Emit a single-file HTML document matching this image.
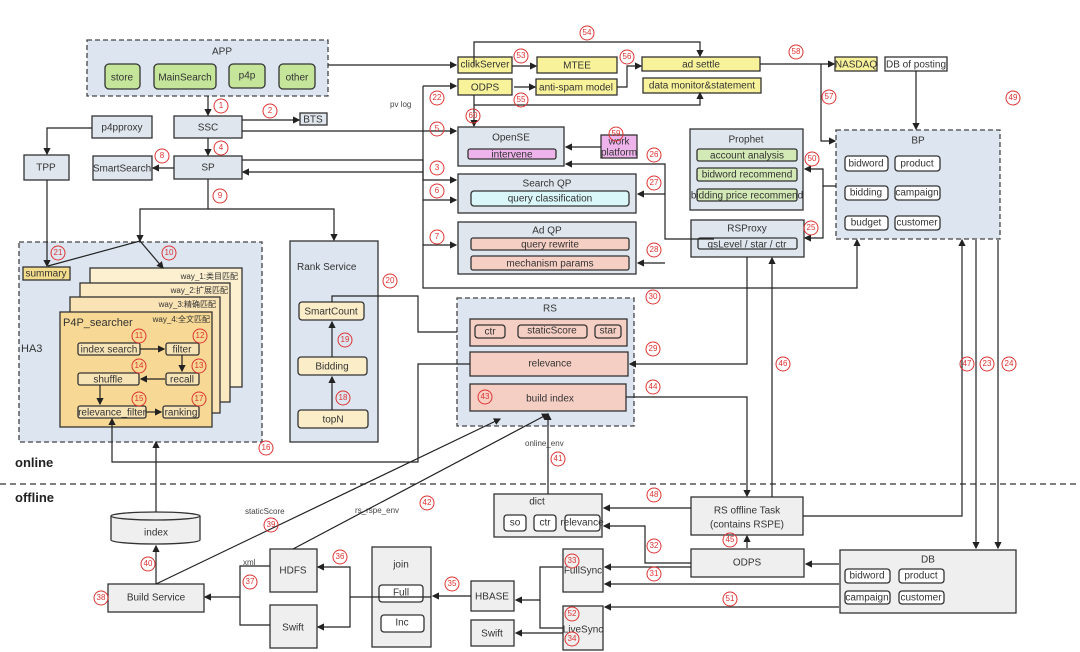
<!DOCTYPE html>
<html><head><meta charset="utf-8"><style>
body{margin:0;background:#fff}
svg{display:block;font-family:"Liberation Sans","Noto Sans CJK SC",sans-serif}
.b{stroke:#333;stroke-width:1.3}
.l{stroke:#222;stroke-width:1.2;fill:none}
.t{font-size:10px;fill:#333;text-anchor:middle;dominant-baseline:middle}
.n circle{fill:none;stroke:#d33;stroke-width:1}
.n text{font-size:8px;fill:#d33;text-anchor:middle;dominant-baseline:middle}
</style></head><body>
<svg width="1080" height="652" viewBox="0 0 1080 652">
<defs><marker id="a" markerWidth="6" markerHeight="6" refX="5" refY="3" orient="auto"><path d="M0,0L6,3L0,6z" fill="#222"/></marker></defs>
<rect x="87" y="40" width="241" height="56" fill="#dde6f0" stroke="#444" stroke-dasharray="5,3" stroke-width="1.3"/>
<text x="222" y="52" class="t" font-size="11">APP</text>
<g fill="#c5e59a" class="b">
<rect x="105" y="64" width="35" height="25" rx="4"/><rect x="154" y="64" width="62" height="25" rx="4"/><rect x="229" y="64" width="36" height="24" rx="4"/><rect x="279" y="64" width="36" height="25" rx="4"/></g>
<text x="122" y="78" class="t" font-size="9">store</text><text x="185" y="78" class="t" font-size="9">MainSearch</text><text x="247" y="76" class="t" font-size="9">p4p</text><text x="297" y="78" class="t" font-size="9">other</text>
<g fill="#dfe6ee" class="b">
<rect x="174" y="116" width="68" height="22"/><rect x="92" y="116" width="60" height="22"/><rect x="24" y="155" width="45" height="25"/><rect x="93" y="156" width="59" height="24"/><rect x="174" y="156" width="68" height="23"/><rect x="300" y="113" width="27" height="12"/></g>
<text x="208" y="128" class="t" font-size="12">SSC</text><text x="122" y="128" class="t" font-size="9">p4pproxy</text><text x="46" y="168" class="t" font-size="9">TPP</text><text x="122" y="169" class="t" font-size="9">SmartSearch</text><text x="208" y="168" class="t" font-size="12">SP</text><text x="313" y="120" class="t" font-size="8">BTS</text>
<rect x="19" y="242" width="243" height="200" fill="#dde6f0" stroke="#444" stroke-dasharray="5,3" stroke-width="1.3"/>
<text x="21" y="352" font-size="11" fill="#333">HA3</text>
<rect x="23" y="267" width="47" height="13" fill="#f3dc8c" class="b"/><text x="46" y="274" class="t" font-size="8">summary</text>
<g class="b"><rect x="90" y="268" width="152" height="119" fill="#fdf0d0"/><rect x="80" y="283" width="150" height="119" fill="#fbe9c2"/><rect x="70" y="297" width="150" height="116" fill="#fae3b4"/><rect x="60" y="312" width="152" height="115" fill="#f7d995"/></g>
<g font-size="8" fill="#333" text-anchor="end"><text x="238" y="279">way_1:类目匹配</text><text x="228" y="293">way_2:扩展匹配</text><text x="216" y="307">way_3:精确匹配</text><text x="210" y="322">way_4:全文匹配</text></g>
<text x="63" y="326" font-size="11" fill="#333">P4P_searcher</text>
<g fill="#f7e4b6" class="b" stroke-width="1"><rect x="78" y="343" width="62" height="12" rx="2"/><rect x="166" y="343" width="33" height="12" rx="2"/><rect x="166" y="373" width="33" height="12" rx="2"/><rect x="78" y="373" width="61" height="12" rx="2"/><rect x="78" y="406" width="68" height="12" rx="2"/><rect x="163" y="406" width="36" height="12" rx="2"/></g>
<text x="109" y="350" class="t" font-size="7.5">index search</text><text x="182" y="350" class="t" font-size="7.5">filter</text><text x="182" y="380" class="t" font-size="7.5">recall</text><text x="108" y="380" class="t" font-size="7.5">shuffle</text><text x="112" y="413" class="t" font-size="7.5">relevance_filter</text><text x="181" y="413" class="t" font-size="7.5">ranking</text>
<rect x="290" y="241" width="88" height="201" fill="#dde6f0" class="b"/>
<text x="297" y="270" font-size="10" fill="#333">Rank Service</text>
<g fill="#fbedc8" class="b" stroke-width="1"><rect x="299" y="302" width="65" height="18" rx="3"/><rect x="298" y="357" width="69" height="18" rx="3"/><rect x="298" y="410" width="70" height="18" rx="3"/></g>
<text x="331" y="312" class="t" font-size="8">SmartCount</text><text x="332" y="367" class="t" font-size="8">Bidding</text><text x="333" y="420" class="t" font-size="8">topN</text>
<text x="15" y="467" font-size="13" font-weight="bold" fill="#222">online</text>
<text x="15" y="502" font-size="13" font-weight="bold" fill="#222">offline</text>
<line x1="0" y1="484" x2="1080" y2="484" stroke="#333" stroke-dasharray="6,4" stroke-width="1.3"/>
<g fill="#f8f39a" class="b"><rect x="458" y="57" width="54" height="16"/><rect x="458" y="79" width="54" height="16"/><rect x="537" y="57" width="80" height="16"/><rect x="536" y="79" width="81" height="16"/><rect x="642" y="57" width="118" height="14"/><rect x="643" y="78" width="118" height="15"/><rect x="835" y="57" width="42" height="14"/></g>
<rect x="885" y="57" width="62" height="14" fill="#fff" class="b"/>
<text x="485" y="65" class="t">clickServer</text><text x="485" y="88" class="t">ODPS</text><text x="577" y="66" class="t">MTEE</text><text x="576" y="88" class="t">anti-spam model</text><text x="701" y="65" class="t">ad settle</text><text x="702" y="86" class="t">data monitor&amp;statement</text><text x="856" y="65" class="t">NASDAQ</text><text x="916" y="65" class="t">DB of posting</text>
<g fill="#dfe6ee" class="b"><rect x="458" y="127" width="106" height="39"/><rect x="458" y="174" width="178" height="39"/><rect x="458" y="222" width="178" height="52"/><rect x="690" y="129" width="113" height="81"/><rect x="691" y="220" width="113" height="37"/></g>
<text x="511" y="138" class="t" font-size="11">OpenSE</text><text x="547" y="184" class="t" font-size="11">Search QP</text><text x="547" y="231" class="t" font-size="11">Ad QP</text><text x="746" y="140" class="t" font-size="11">Prophet</text><text x="747" y="229" class="t" font-size="11">RSProxy</text>
<rect x="468" y="149" width="88" height="10" rx="2" fill="#efb3ec" class="b" stroke-width="1"/><text x="512" y="155" class="t" font-size="8">intervene</text>
<rect x="601" y="135" width="36" height="23" fill="#efb3ec" class="b" stroke-width="1"/><text x="619" y="142" class="t" font-size="8">work</text><text x="619" y="153" class="t" font-size="8">platform</text>
<rect x="471" y="191" width="158" height="15" rx="3" fill="#d9f6f8" class="b" stroke-width="1"/><text x="550" y="199" class="t" font-size="8">query classification</text>
<g fill="#f6cfc4" class="b" stroke-width="1"><rect x="471" y="238" width="158" height="12" rx="2"/><rect x="471" y="256" width="158" height="14" rx="2"/></g>
<text x="550" y="245" class="t" font-size="8">query rewrite</text><text x="550" y="264" class="t" font-size="8">mechanism params</text>
<g fill="#d3e9b6" class="b" stroke-width="1"><rect x="697" y="149" width="100" height="12" rx="2"/><rect x="697" y="168" width="100" height="13" rx="2"/><rect x="697" y="189" width="100" height="12" rx="2"/></g>
<text x="747" y="156" class="t" font-size="8">account analysis</text><text x="747" y="175" class="t" font-size="8">bidword recommend</text><text x="747" y="196" class="t" font-size="8">bidding price recommend</text>
<rect x="698" y="238" width="99" height="11" rx="2" fill="#dfe6ee" class="b" stroke-width="1"/><text x="747" y="245" class="t" font-size="8">qsLevel   /   star   /   ctr</text>
<rect x="836" y="130" width="164" height="109" fill="#dde6f0" stroke="#444" stroke-dasharray="5,3" stroke-width="1.3"/>
<text x="918" y="141" class="t" font-size="11">BP</text>
<g fill="#fff" class="b" stroke-width="1"><rect x="845" y="156" width="43" height="15" rx="3"/><rect x="895" y="156" width="45" height="15" rx="3"/><rect x="845" y="186" width="43" height="14" rx="3"/><rect x="895" y="186" width="45" height="14" rx="3"/><rect x="845" y="216" width="43" height="14" rx="3"/><rect x="895" y="216" width="45" height="14" rx="3"/></g>
<text x="866" y="164" class="t" font-size="8">bidword</text><text x="917" y="164" class="t" font-size="8">product</text><text x="866" y="193" class="t" font-size="8">bidding</text><text x="917" y="193" class="t" font-size="8">campaign</text><text x="866" y="223" class="t" font-size="8">budget</text><text x="917" y="223" class="t" font-size="8">customer</text>
<rect x="457" y="298" width="177" height="128" fill="#dde6f0" stroke="#444" stroke-dasharray="5,3" stroke-width="1.3"/>
<text x="550" y="309" class="t" font-size="10">RS</text>
<g fill="#f6cfc4" class="b"><rect x="470" y="319" width="157" height="27"/><rect x="470" y="352" width="158" height="24"/><rect x="470" y="384" width="156" height="27"/></g>
<g fill="#f6cfc4" class="b" stroke-width="1"><rect x="475" y="325" width="30" height="13" rx="3"/><rect x="518" y="325" width="69" height="13" rx="3"/><rect x="595" y="325" width="26" height="13" rx="3"/></g>
<text x="490" y="332" class="t" font-size="8">ctr</text><text x="552" y="331" class="t" font-size="8">staticScore</text><text x="608" y="331" class="t" font-size="8">star</text><text x="550" y="364" class="t" font-size="8">relevance</text><text x="550" y="399" class="t" font-size="8">build index</text>
<g fill="#efefef" class="b"><rect x="494" y="494" width="108" height="43"/><rect x="691" y="497" width="112" height="38"/><rect x="691" y="549" width="113" height="28"/><rect x="840" y="550" width="176" height="63"/><rect x="563" y="549" width="40" height="43"/><rect x="563" y="606" width="40" height="44"/><rect x="471" y="581" width="43" height="30"/><rect x="471" y="620" width="43" height="26"/><rect x="372" y="547" width="59" height="100"/><rect x="270" y="549" width="47" height="43"/><rect x="270" y="605" width="47" height="43"/><rect x="108" y="584" width="96" height="28"/></g>
<text x="537" y="502" class="t" font-size="11">dict</text>
<g fill="#fff" class="b" stroke-width="1"><rect x="504" y="515" width="22" height="16" rx="3"/><rect x="534" y="515" width="22" height="16" rx="3"/><rect x="565" y="515" width="35" height="16" rx="3"/><rect x="845" y="569" width="45" height="14" rx="3"/><rect x="899" y="569" width="45" height="14" rx="3"/><rect x="845" y="591" width="45" height="13" rx="3"/><rect x="899" y="591" width="45" height="13" rx="3"/><rect x="379" y="585" width="44" height="17" rx="3"/><rect x="381" y="615" width="43" height="17" rx="3"/></g>
<text x="515" y="523" class="t" font-size="8">so</text><text x="545" y="523" class="t" font-size="8">ctr</text><text x="582" y="523" class="t" font-size="8">relevance</text><text x="867" y="576" class="t" font-size="8">bidword</text><text x="921" y="576" class="t" font-size="8">product</text><text x="867" y="598" class="t" font-size="8">campaign</text><text x="921" y="598" class="t" font-size="8">customer</text><text x="401" y="593" class="t" font-size="8">Full</text><text x="402" y="623" class="t" font-size="8">Inc</text>
<text x="747" y="511" class="t" font-size="11">RS offline Task</text><text x="747" y="525" class="t" font-size="11">(contains RSPE)</text>
<text x="747" y="563" class="t" font-size="11">ODPS</text><text x="928" y="560" class="t" font-size="10">DB</text>
<text x="583" y="571" class="t" font-size="10">FullSync</text><text x="583" y="630" class="t" font-size="10">LiveSync</text>
<text x="492" y="597" class="t" font-size="10">HBASE</text><text x="492" y="634" class="t" font-size="10">Swift</text>
<text x="401" y="565" class="t" font-size="10">join</text><text x="293" y="571" class="t" font-size="10">HDFS</text><text x="293" y="628" class="t" font-size="10">Swift</text><text x="156" y="598" class="t" font-size="10">Build Service</text>
<path d="M111,516 L111,540 A44.5,4 0 0 0 200,540 L200,516" fill="#efefef" class="b"/>
<ellipse cx="155.5" cy="516" rx="44.5" ry="4" fill="#efefef" class="b"/>
<text x="156" y="533" class="t" font-size="10">index</text>
<g font-size="8" fill="#444"><text x="390" y="107">pv log</text><text x="245" y="514">staticScore</text><text x="355" y="513">rs_rspe_env</text><text x="243" y="565">xml</text><text x="525" y="446">online_env</text></g>
<g class="l" marker-end="url(#a)">
<path d="M328,65H456"/><path d="M208,96V115"/><path d="M242,120H299"/><path d="M208,138V155"/><path d="M174,168H153"/>
<path d="M92,128H47V154"/><path d="M47,180V266"/>
<path d="M208,179V209H140V241"/><path d="M208,209H334V240"/>
<path d="M140,241L48,266" marker-end="none"/><path d="M140,241L163,268"/>
<path d="M423,86H456"/><path d="M242,131H456"/><path d="M242,160H423V180H456"/><path d="M423,200H456"/><path d="M423,245H456"/>
<path d="M423,172H243"/>
<path d="M423,86V288H857V240"/>
<path d="M512,66H536"/><path d="M617,87H627V66H641"/><path d="M514,87H535"/><path d="M474,66V42H700V56"/><path d="M474,95V105H700V93"/><path d="M474,105V126"/>
<path d="M760,64H834"/><path d="M821,64V141H835"/><path d="M916,71V129"/>
<path d="M601,147H566"/><path d="M714,239H665V164H566"/><path d="M665,194H638"/><path d="M665,263H638"/>
<path d="M836,186H823V169H805"/><path d="M823,186V238H805"/>
<path d="M140,349H164"/><path d="M182,355V371"/><path d="M165,379H141"/><path d="M100,385V404"/><path d="M146,412H161"/>
<path d="M332,410V377"/><path d="M332,357V322"/>
<path d="M332,302V296H418V332H457" marker-end="none"/>
<path d="M470,364H418V462H112V420" marker-end="none"/><path d="M112,420V419"/>
<path d="M747,257V364H630"/><path d="M626,397H747V496"/><path d="M772,497V258"/>
<path d="M803,516H962V240"/><path d="M976,240V548"/><path d="M998,240V548"/>
<path d="M839,564H806"/><path d="M839,584H605"/><path d="M839,607H605"/>
<path d="M747,548V536"/><path d="M691,563H645V526H604"/><path d="M691,567H605"/><path d="M691,508H604"/>
<path d="M548,494V414"/>
<path d="M563,567H540V600H516"/><path d="M540,600V628H563" marker-end="none"/><path d="M563,633H516"/>
<path d="M471,596H433"/><path d="M431,597H350V567H318"/><path d="M350,597V627H318"/>
<path d="M270,566H240V625H270" marker-end="none"/><path d="M240,597H205"/>
<path d="M156,584V546"/><path d="M156,512V442"/>
<path d="M156,584L500,419"/><path d="M293,549L548,414"/>
</g>
<g class="n">
<g><circle cx="221" cy="106" r="7"/><text x="221" y="106">1</text></g>
<g><circle cx="270" cy="111" r="7"/><text x="270" y="111">2</text></g>
<g><circle cx="221" cy="148" r="7"/><text x="221" y="148">4</text></g>
<g><circle cx="162" cy="156" r="7"/><text x="162" y="156">8</text></g>
<g><circle cx="220" cy="196" r="7"/><text x="220" y="196">9</text></g>
<g><circle cx="437" cy="98" r="7"/><text x="437" y="98">22</text></g>
<g><circle cx="437" cy="129" r="7"/><text x="437" y="129">5</text></g>
<g><circle cx="437" cy="168" r="7"/><text x="437" y="168">3</text></g>
<g><circle cx="437" cy="191" r="7"/><text x="437" y="191">6</text></g>
<g><circle cx="437" cy="237" r="7"/><text x="437" y="237">7</text></g>
<g><circle cx="521" cy="56" r="7"/><text x="521" y="56">53</text></g>
<g><circle cx="587" cy="33" r="7"/><text x="587" y="33">54</text></g>
<g><circle cx="627" cy="57" r="7"/><text x="627" y="57">56</text></g>
<g><circle cx="796" cy="52" r="7"/><text x="796" y="52">58</text></g>
<g><circle cx="829" cy="97" r="7"/><text x="829" y="97">57</text></g>
<g><circle cx="1013" cy="98" r="7"/><text x="1013" y="98">49</text></g>
<g><circle cx="521" cy="100" r="7"/><text x="521" y="100">55</text></g>
<g><circle cx="473" cy="116" r="7"/><text x="473" y="116">60</text></g>
<g><circle cx="616" cy="134" r="7"/><text x="616" y="134">59</text></g>
<g><circle cx="654" cy="155" r="7"/><text x="654" y="155">26</text></g>
<g><circle cx="654" cy="183" r="7"/><text x="654" y="183">27</text></g>
<g><circle cx="654" cy="250" r="7"/><text x="654" y="250">28</text></g>
<g><circle cx="812" cy="159" r="7"/><text x="812" y="159">50</text></g>
<g><circle cx="811" cy="228" r="7"/><text x="811" y="228">25</text></g>
<g><circle cx="58" cy="253" r="7"/><text x="58" y="253">21</text></g>
<g><circle cx="169" cy="253" r="7"/><text x="169" y="253">10</text></g>
<g><circle cx="390" cy="281" r="7"/><text x="390" y="281">20</text></g>
<g><circle cx="139" cy="336" r="7"/><text x="139" y="336">11</text></g>
<g><circle cx="200" cy="336" r="7"/><text x="200" y="336">12</text></g>
<g><circle cx="199" cy="366" r="7"/><text x="199" y="366">13</text></g>
<g><circle cx="139" cy="366" r="7"/><text x="139" y="366">14</text></g>
<g><circle cx="139" cy="399" r="7"/><text x="139" y="399">15</text></g>
<g><circle cx="199" cy="399" r="7"/><text x="199" y="399">17</text></g>
<g><circle cx="345" cy="340" r="7"/><text x="345" y="340">19</text></g>
<g><circle cx="343" cy="398" r="7"/><text x="343" y="398">18</text></g>
<g><circle cx="266" cy="448" r="7"/><text x="266" y="448">16</text></g>
<g><circle cx="653" cy="297" r="7"/><text x="653" y="297">30</text></g>
<g><circle cx="653" cy="349" r="7"/><text x="653" y="349">29</text></g>
<g><circle cx="653" cy="387" r="7"/><text x="653" y="387">44</text></g>
<g><circle cx="485" cy="397" r="7"/><text x="485" y="397">43</text></g>
<g><circle cx="783" cy="364" r="7"/><text x="783" y="364">46</text></g>
<g><circle cx="967" cy="364" r="7"/><text x="967" y="364">47</text></g>
<g><circle cx="987" cy="364" r="7"/><text x="987" y="364">23</text></g>
<g><circle cx="1009" cy="364" r="7"/><text x="1009" y="364">24</text></g>
<g><circle cx="558" cy="459" r="7"/><text x="558" y="459">41</text></g>
<g><circle cx="427" cy="503" r="7"/><text x="427" y="503">42</text></g>
<g><circle cx="271" cy="525" r="7"/><text x="271" y="525">39</text></g>
<g><circle cx="148" cy="564" r="7"/><text x="148" y="564">40</text></g>
<g><circle cx="101" cy="598" r="7"/><text x="101" y="598">38</text></g>
<g><circle cx="250" cy="582" r="7"/><text x="250" y="582">37</text></g>
<g><circle cx="340" cy="557" r="7"/><text x="340" y="557">36</text></g>
<g><circle cx="452" cy="584" r="7"/><text x="452" y="584">35</text></g>
<g><circle cx="654" cy="495" r="7"/><text x="654" y="495">48</text></g>
<g><circle cx="730" cy="540" r="7"/><text x="730" y="540">45</text></g>
<g><circle cx="654" cy="546" r="7"/><text x="654" y="546">32</text></g>
<g><circle cx="654" cy="574" r="7"/><text x="654" y="574">31</text></g>
<g><circle cx="572" cy="561" r="7"/><text x="572" y="561">33</text></g>
<g><circle cx="572" cy="614" r="7"/><text x="572" y="614">52</text></g>
<g><circle cx="572" cy="639" r="7"/><text x="572" y="639">34</text></g>
<g><circle cx="730" cy="599" r="7"/><text x="730" y="599">51</text></g>
</g>
</svg>
</body></html>
